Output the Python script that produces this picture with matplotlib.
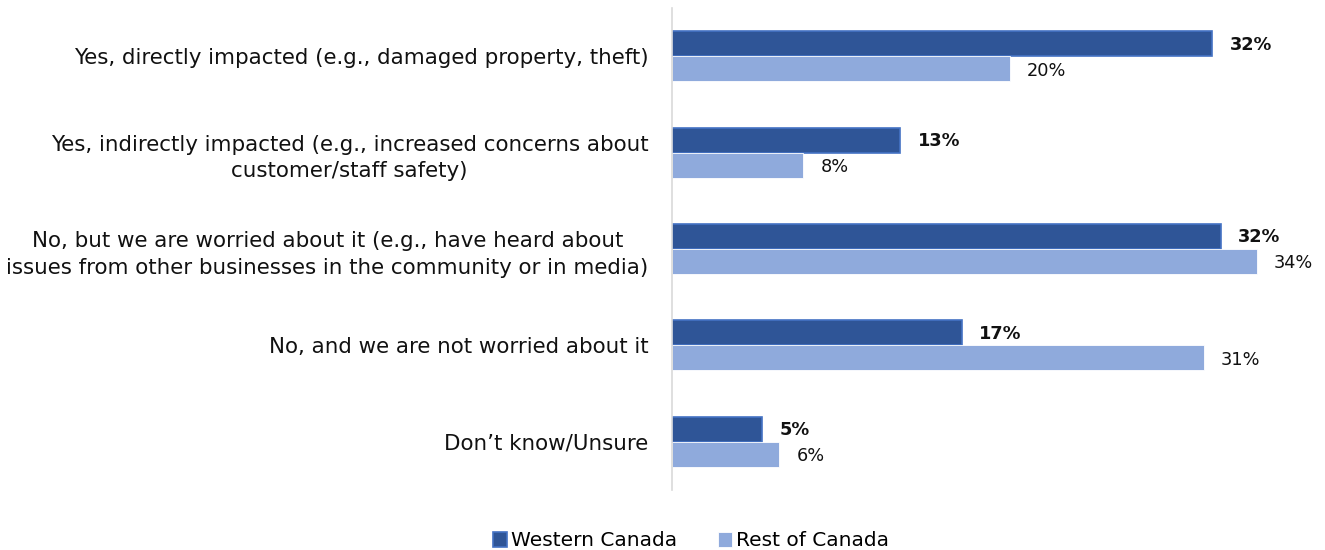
import numpy as np
import matplotlib
matplotlib.use("Agg")
import matplotlib.pyplot as plt

# survey answers, top to bottom
categories = [
    "Yes, directly impacted (e.g., damaged property, theft)",
    "Yes, indirectly impacted (e.g., increased concerns about\ncustomer/staff safety)",
    "No, but we are worried about it (e.g., have heard about\nissues from other businesses in the community or in media)",
    "No, and we are not worried about it",
    "Don\u2019t know/Unsure",
]
western = [31.7, 13.4, 32.2, 17.0, 5.3]
rest = [19.8, 7.7, 34.3, 31.2, 6.3]
series_names = ["Western Canada", "Rest of Canada"]

dark = "#2F5597"
dark_edge = "#4472C4"
light = "#8FAADC"

plt.rcParams["font.family"] = ["DejaVu Sans"]

fig = plt.figure(figsize=(13.25, 5.5), dpi=100)
ax = fig.add_axes([0.5072, 0.1091, 0.476, 0.8764])

y = np.arange(len(categories))
h = 0.26

bars_w = ax.barh(y - h / 2, western, height=h, color=dark, edgecolor=dark_edge,
                 linewidth=1.2, label=series_names[0])
bars_r = ax.barh(y + h / 2, rest, height=h, color=light, edgecolor="white",
                 linewidth=0.6, label=series_names[1])

for bar, v in zip(bars_w, western):
    ax.text(bar.get_width() + 1.0, bar.get_y() + bar.get_height() / 2 + 0.01,
            f"{v:.0f}%", va="center", ha="left", fontsize=12.8, fontweight="bold",
            color="#111111")
for bar, v in zip(bars_r, rest):
    ax.text(bar.get_width() + 1.0, bar.get_y() + bar.get_height() / 2 + 0.02,
            f"{v:.0f}%", va="center", ha="left", fontsize=12.8, color="#111111")

ax.set_xlim(0, 37)
ax.set_ylim(len(categories) - 0.5, -0.5)
ax.set_yticks(y)
ax.set_yticklabels(categories, fontsize=15.4, color="#111111",
                   multialignment="center", linespacing=1.42)
ax.tick_params(axis="y", length=0, pad=17)
ax.set_xticks([])

for side in ["top", "right", "bottom"]:
    ax.spines[side].set_visible(False)
ax.spines["left"].set_color("#D9D9D9")
ax.spines["left"].set_linewidth(1.2)

fig.legend(handles=[bars_w, bars_r], labels=series_names, loc="center",
           bbox_to_anchor=(691 / 1325, 1 - 541 / 550), ncol=2, frameon=False,
           fontsize=14.5, handlelength=0.7, handleheight=0.7, handletextpad=0.2,
           columnspacing=2.0)

fig.savefig("out.png", dpi=100)
